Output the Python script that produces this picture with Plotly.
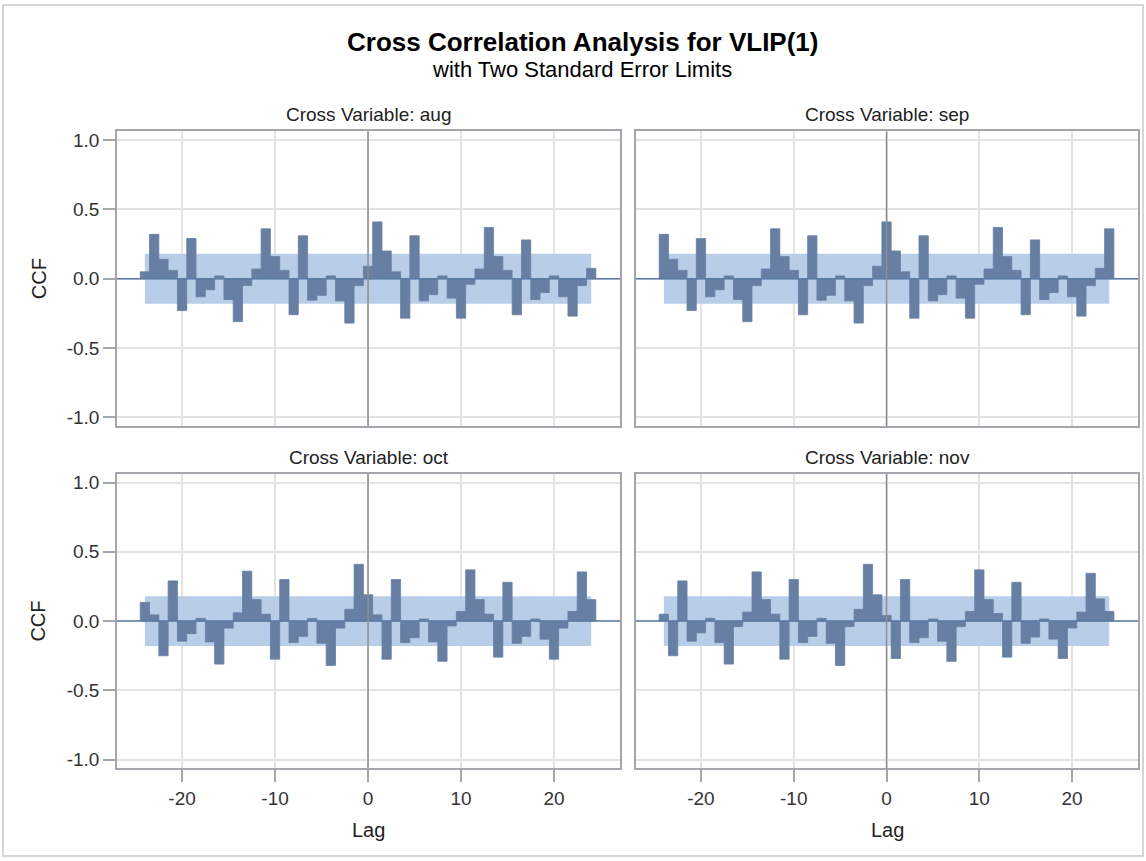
import plotly.graph_objects as go

# Lags shown in every panel
lags = list(range(-24, 25))

# Cross correlations of VLIP(1) with each monthly cross variable
ccf_aug = [0.05, 0.32, 0.14, 0.06, -0.23, 0.29, -0.13, -0.08, 0.02, -0.15, -0.31, -0.05, 0.07,
           0.36, 0.16, 0.06, -0.26, 0.31, -0.155, -0.12, 0.02, -0.16, -0.32, -0.05, 0.09,
           0.41, 0.20, 0.05, -0.285, 0.31, -0.16, -0.115, 0.02, -0.14, -0.285, -0.04, 0.07,
           0.37, 0.16, 0.06, -0.26, 0.28, -0.15, -0.10, 0.02, -0.13, -0.27, -0.05, 0.075]
ccf_sep = [0.32, 0.14, 0.06, -0.23, 0.29, -0.13, -0.08, 0.02, -0.15, -0.31, -0.05, 0.07, 0.36,
           0.16, 0.06, -0.26, 0.31, -0.155, -0.12, 0.02, -0.16, -0.32, -0.05, 0.09, 0.41,
           0.20, 0.05, -0.285, 0.31, -0.16, -0.115, 0.02, -0.14, -0.285, -0.04, 0.07, 0.37,
           0.16, 0.06, -0.26, 0.28, -0.15, -0.10, 0.02, -0.13, -0.27, -0.05, 0.075, 0.36]
ccf_oct = [0.135, 0.045, -0.25, 0.29, -0.145, -0.09, 0.02, -0.15, -0.31, -0.05, 0.06, 0.36, 0.155,
           0.05, -0.275, 0.30, -0.155, -0.11, 0.02, -0.16, -0.32, -0.05, 0.085, 0.41, 0.19,
           0.045, -0.275, 0.30, -0.155, -0.12, 0.015, -0.15, -0.29, -0.035, 0.07, 0.37, 0.155,
           0.05, -0.26, 0.28, -0.16, -0.11, 0.015, -0.13, -0.275, -0.05, 0.07, 0.355, 0.155]
ccf_nov = [0.05, -0.25, 0.29, -0.145, -0.085, 0.02, -0.155, -0.31, -0.04, 0.065, 0.355, 0.155, 0.05,
           -0.275, 0.30, -0.155, -0.11, 0.02, -0.16, -0.32, -0.04, 0.085, 0.41, 0.19,
           0.04, -0.27, 0.30, -0.155, -0.12, 0.015, -0.145, -0.29, -0.04, 0.07, 0.37, 0.155,
           0.055, -0.26, 0.28, -0.16, -0.115, 0.015, -0.13, -0.27, -0.05, 0.065, 0.345, 0.16, 0.07]

panel_names = ["aug", "sep", "oct", "nov"]
panel_values = [ccf_aug, ccf_sep, ccf_oct, ccf_nov]

# Two standard error limit
two_se = 0.18

x_tick_vals = [-20, -10, 0, 10, 20]
x_tick_text = ["-20", "-10", "0", "10", "20"]
y_tick_vals = [-1.0, -0.5, 0.0, 0.5, 1.0]
y_tick_text = ["-1.0", "-0.5", "0.0", "0.5", "1.0"]

W, H = 1146, 861
FONT = "Arial, 'Liberation Sans', sans-serif"
BAR_COLOR = "#667FA3"
BAND_COLOR = "#B8CEE8"
ZERO_COLOR = "#5B7BA5"
VLINE_COLOR = "#8E8E8E"
FRAME_COLOR = "#A3A7AD"
GRID_COLOR = "#E3E3E3"


def px_y(p):
    return 1 - p / H


col_domains = [[117 / W, 620 / W], [636 / W, 1138 / W]]
row_domains = [[px_y(426), px_y(130)], [px_y(770), px_y(474)]]

fig = go.Figure()
layout = dict(
    width=W, height=H, autosize=False,
    margin=dict(l=0, r=0, t=0, b=0),
    paper_bgcolor="white", plot_bgcolor="white",
    showlegend=False, barmode="overlay",
    font=dict(family=FONT, color="#333333", size=19),
)
shapes = []
annotations = []

for i, (name, vals) in enumerate(zip(panel_names, panel_values)):
    row, col = divmod(i, 2)
    sfx = "" if i == 0 else str(i + 1)
    xa, ya = "x" + sfx, "y" + sfx

    # standard error band, spanning the lag range, drawn under the bars
    band_center = (lags[0] + lags[-1]) / 2
    fig.add_trace(go.Bar(
        x=[band_center], y=[2 * two_se], base=[-two_se], width=[lags[-1] - lags[0]],
        marker=dict(color=BAND_COLOR, line=dict(width=0)), hoverinfo="skip",
        xaxis=xa, yaxis=ya))
    # correlation bars; an outline in the fill colour closes the seams between neighbours
    fig.add_trace(go.Bar(
        x=lags, y=vals, width=1,
        marker=dict(color=BAR_COLOR, line=dict(width=0.8, color=BAR_COLOR)),
        xaxis=xa, yaxis=ya))

    bottom = row == 1
    left = col == 0
    layout["xaxis" + sfx] = dict(
        domain=col_domains[col], anchor=ya, range=[-27, 27.1],
        tickvals=x_tick_vals, ticktext=x_tick_text,
        showticklabels=bottom, ticks="outside" if bottom else "",
        ticklen=12, tickwidth=1.5, tickcolor=FRAME_COLOR,
        showgrid=True, gridcolor=GRID_COLOR, gridwidth=1.5, zeroline=False,
        showline=True, mirror=True, linecolor=FRAME_COLOR, linewidth=1.5,
        tickfont=dict(size=19, color="#333333"))
    layout["yaxis" + sfx] = dict(
        domain=row_domains[row], anchor=xa, range=[-1.063, 1.063],
        tickvals=y_tick_vals, ticktext=y_tick_text,
        showticklabels=left, ticks="outside" if left else "",
        ticklen=12, tickwidth=1.5, tickcolor=FRAME_COLOR,
        showgrid=True, gridcolor=GRID_COLOR, gridwidth=1.5, zeroline=False,
        showline=True, mirror=True, linecolor=FRAME_COLOR, linewidth=1.5,
        tickfont=dict(size=19, color="#333333"))

    # reference lines
    shapes.append(dict(type="line", xref=xa + " domain", yref=ya, x0=0, x1=1, y0=0, y1=0,
                       line=dict(color=ZERO_COLOR, width=1.5), layer="above"))
    shapes.append(dict(type="line", xref=xa, yref=ya + " domain", x0=0, x1=0, y0=0, y1=1,
                       line=dict(color=VLINE_COLOR, width=1.5), layer="above"))

    # panel header
    cx = sum(col_domains[col]) / 2
    annotations.append(dict(text="Cross Variable: " + name, xref="paper", yref="paper",
                            x=cx, y=row_domains[row][1] + 4 / H, xanchor="center", yanchor="bottom",
                            showarrow=False, font=dict(size=19, color="#222222")))
    if left:
        annotations.append(dict(text="CCF", xref="paper", yref="paper", textangle=-90,
                                x=38.5 / W, y=sum(row_domains[row]) / 2, xanchor="center",
                                yanchor="middle", showarrow=False,
                                font=dict(size=20, color="#222222")))
    if bottom:
        annotations.append(dict(text="Lag", xref="paper", yref="paper",
                                x=cx, y=px_y(832), xanchor="center", yanchor="middle",
                                showarrow=False, font=dict(size=20, color="#222222")))

annotations.append(dict(text="<b>Cross Correlation Analysis for VLIP(1)</b>", xref="paper",
                        yref="paper", x=582 / W, y=px_y(40), xanchor="center", yanchor="middle",
                        showarrow=False, font=dict(size=26, color="#000000")))
annotations.append(dict(text="with Two Standard Error Limits", xref="paper", yref="paper",
                        x=582 / W, y=px_y(68), xanchor="center", yanchor="middle",
                        showarrow=False, font=dict(size=22, color="#000000")))

# outer graph border
shapes.append(dict(type="rect", xref="paper", yref="paper", x0=3 / W, x1=1 - 3 / W,
                   y0=3 / H, y1=1 - 3 / H, line=dict(color="#C8C8C8", width=1.5),
                   fillcolor="rgba(0,0,0,0)", layer="below"))

layout["shapes"] = shapes
layout["annotations"] = annotations
fig.update_layout(**layout)

fig.write_html("out.html")
